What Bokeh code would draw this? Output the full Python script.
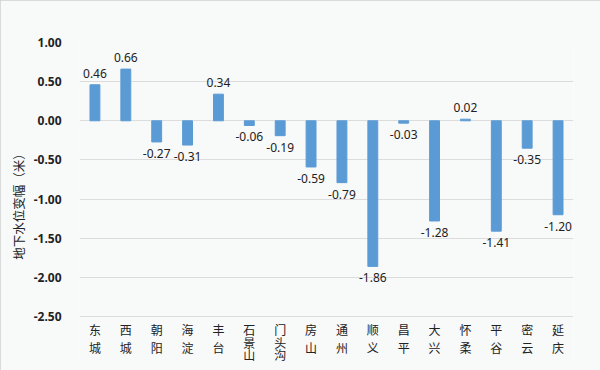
from bokeh.plotting import figure
from bokeh.models import Range1d, ColumnDataSource, LabelSet, NumeralTickFormatter, FixedTicker, Title
from bokeh.core.properties import value
from bokeh.embed import file_html
from bokeh.resources import INLINE

districts = ["东城", "西城", "朝阳", "海淀", "丰台", "石景山", "门头沟", "房山",
             "通州", "顺义", "昌平", "大兴", "怀柔", "平谷", "密云", "延庆"]
changes = [0.46, 0.66, -0.27, -0.31, 0.34, -0.06, -0.19, -0.59,
           -0.79, -1.86, -0.03, -1.28, 0.02, -1.41, -0.35, -1.20]
y_ticks = [-2.5, -2.0, -1.5, -1.0, -0.5, 0.0, 0.5, 1.0]
y_title = "地下水位变幅（米）"

BG = "#F8F9F9"
BAR = "#5B9BD5"
CJK = "Noto Sans CJK SC"
NUM = "Noto Sans"

# layout: value band 274 px tall, plus a band of 48 px below for category labels
W, H = 600, 370
TOP, LEFT, RIGHT = 42, 79, 27
BAND_PX, LABEL_PX = 274, 48
px_per_unit = BAND_PX / (y_ticks[-1] - y_ticks[0])
y_start = y_ticks[0] - LABEL_PX / px_per_unit

p = figure(x_range=districts, y_range=Range1d(y_start, y_ticks[-1]),
           width=W, height=H, output_backend="svg", toolbar_location=None,
           min_border_left=LEFT, min_border_right=RIGHT, min_border_top=TOP,
           min_border_bottom=H - TOP - BAND_PX - LABEL_PX)
p.background_fill_color = BG
p.border_fill_color = BG
p.outline_line_color = None
p.styles = {"outline": "1px solid #CFCFCF", "outline-offset": "-1px"}

src = ColumnDataSource(dict(
    x=districts, y=changes,
    lab=[f"{v:.2f}" for v in changes],
    off=[7 if v >= 0 else -7 for v in changes],
    base=["bottom" if v >= 0 else "top" for v in changes],
))
p.vbar(x="x", top="y", bottom=0, width=0.32, color=BAR, source=src)

p.add_layout(LabelSet(x="x", y="y", text="lab", y_offset="off", source=src,
                      text_align="center", text_baseline="base",
                      text_font=value(NUM), text_font_size="12px", text_color="#222222"))

# vertical stacked category labels below the -2.50 line
cx, cy, ch, coff = [], [], [], []
for name in districts:
    step = 18 if len(name) <= 2 else 12.5
    for i, c in enumerate(name):
        cx.append(name)
        cy.append(y_ticks[0])
        ch.append(c)
        coff.append(-(13 + i * step))
csrc = ColumnDataSource(dict(x=cx, y=cy, t=ch, off=coff))
p.add_layout(LabelSet(x="x", y="y", text="t", y_offset="off", source=csrc,
                      text_align="center", text_baseline="middle",
                      text_font=value(CJK), text_font_size="12px", text_color="#222222"))

p.xaxis.visible = False
p.xgrid.visible = False
p.ygrid.grid_line_color = "#DCDCDC"
p.ygrid.grid_line_width = 1

ya = p.yaxis[0]
ya.ticker = FixedTicker(ticks=y_ticks)
ya.formatter = NumeralTickFormatter(format="0.00")
ya.axis_line_color = None
ya.major_tick_line_color = None
ya.minor_tick_line_color = None
ya.major_label_standoff = 12
ya.major_label_text_font = NUM
ya.major_label_text_font_style = "bold"
ya.major_label_text_font_size = "12px"
ya.major_label_text_color = "#222222"

# y-axis title
p.add_layout(Title(text=y_title, align="center", offset=2,
                   text_font=CJK, text_font_style="normal", text_font_size="12.5px",
                   text_color="#222222", standoff=6), "left")

open("out.html", "w").write(file_html(p, INLINE))
